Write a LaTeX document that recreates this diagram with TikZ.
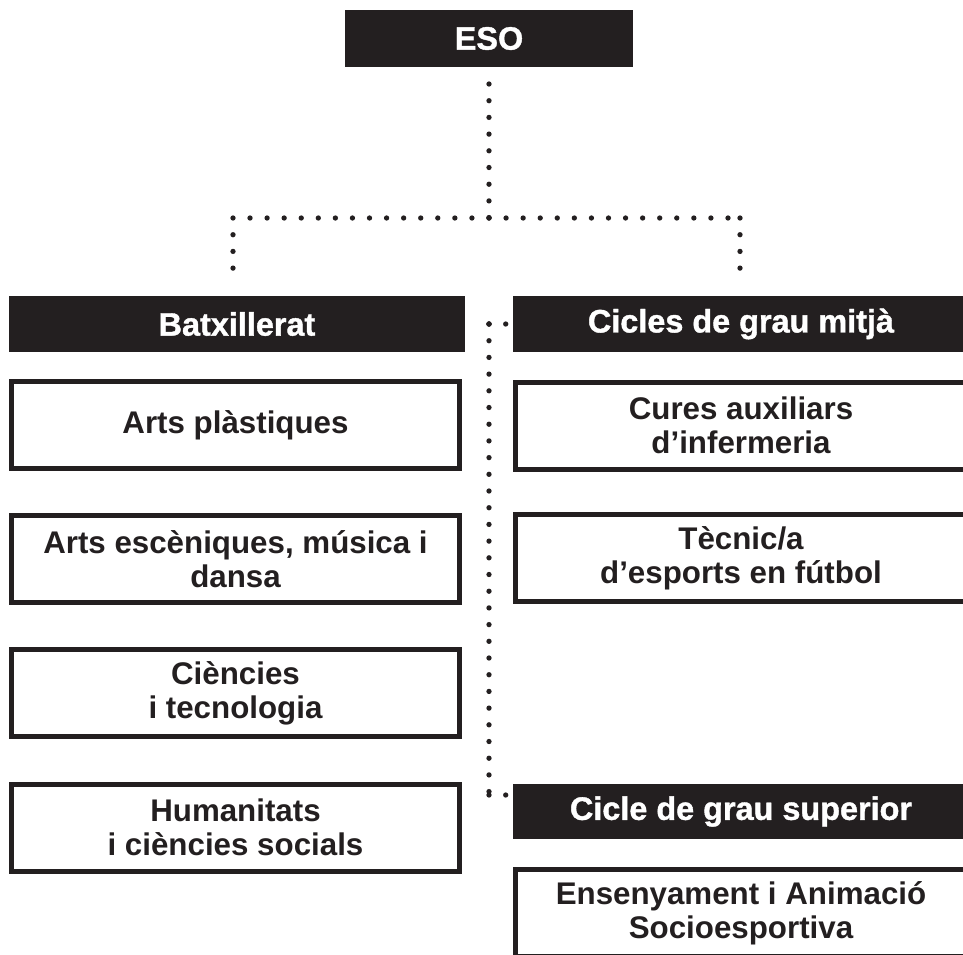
\documentclass[tikz,border=0pt]{standalone}
\usepackage{fontspec}
\newfontfamily\hdfont{Liberation Sans}[BoldFeatures={FakeBold=1.2}]
\newfontfamily\bxfont{Liberation Sans}
\definecolor{ink}{HTML}{231F20}
\tikzset{
  hdr/.style={fill=ink, text=white, inner sep=0pt, outer sep=0pt,
    font=\hdfont\bfseries\fontsize{32.4}{36}\selectfont},
  optbox/.style={draw=ink, line width=5pt, fill=white, text=ink, inner sep=0pt, outer sep=0pt,
    align=center, font=\bxfont\bfseries\fontsize{31.3}{34}\selectfont},
  leftbox/.style={optbox, minimum width=448pt, minimum height=87pt},
  rightbox/.style={optbox, minimum width=451pt, minimum height=87pt},
  dots/.style={draw=ink, line width=5.3pt, line cap=round, dash pattern=on 0pt off 16.7pt},
  hdots/.style={dots, dash pattern=on 0pt off 17.07pt}
}
\begin{document}
\begin{tikzpicture}[x=1pt,y=-1pt]
\useasboundingbox (0,0) rectangle (963,954);
\clip (0,0) rectangle (963,954);
% headers
\node[hdr, minimum width=288pt, minimum height=57pt] (eso) at (489,38.5) {ESO};
\node[hdr, minimum width=456pt, minimum height=56pt] (bat) at (237,324) {Batxillerat};
\node[hdr, minimum width=456pt, minimum height=56pt] (cm) at (741,324) {Cicles de grau mitjà};
\node[hdr, minimum width=456pt, minimum height=55pt] (cs) at (741,811.5) {Cicle de grau superior};
% left boxes
\node[leftbox] (b1) at (235.5,425) {Arts plàstiques};
\node[leftbox] (b2) at (235.5,559) {Arts escèniques, música i\\dansa};
\node[leftbox] (b3) at (235.5,693) {Ciències\\i tecnologia};
\node[leftbox] (b4) at (235.5,827.5) {Humanitats\\i ciències socials};
% right boxes
\node[rightbox] (m1) at (741,425.5) {Cures auxiliars\\d’infermeria};
\node[rightbox] (m2) at (741,558) {Tècnic/a\\d’esports en fútbol};
\node[rightbox] (s1) at (741,913) {Ensenyament i Animació\\Socioesportiva};
% junction coordinates
\coordinate (jT) at (489,218);
\coordinate (jL) at (233,218);
\coordinate (jR) at (740,218);
\coordinate (jM) at (489,324);
\coordinate (jB) at (489,795);
% connectors
\draw[dots, shorten <=17pt] (eso.south) -- (jT);
\draw[hdots] (jT) -- (jL);
\draw[hdots] (jT) -- (jR);
\draw[dots, shorten >=16pt] (jL) -- (jL |- bat.north);
\draw[dots, shorten >=16pt] (jR) -- (jR |- cm.north);
\draw[dots, shorten >=9pt] (jM) -- (bat.east);
\draw[dots, shorten >=7pt] (jM) -- (cm.west);
\draw[dots] (jM) -- (jB);
\draw[dots, shorten >=7pt] (jB) -- (cs.west |- jB);
\end{tikzpicture}
\end{document}
